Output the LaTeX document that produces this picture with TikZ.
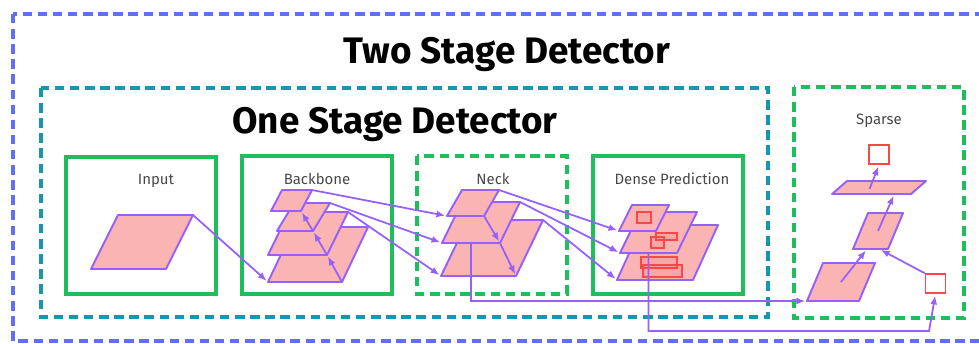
\documentclass[tikz,border=0pt]{standalone}
\usepackage{fontspec}
\setmainfont{Fira Sans}
\usetikzlibrary{calc,arrows.meta}

\definecolor{twoblue}{RGB}{96,112,246}
\definecolor{oneteal}{RGB}{24,150,176}
\definecolor{stagegreen}{RGB}{30,190,92}
\definecolor{flowpurple}{RGB}{150,96,250}
\definecolor{slabpink}{RGB}{250,180,180}
\definecolor{boxred}{RGB}{248,72,72}
\definecolor{labelgray}{RGB}{72,72,72}

% one tilted feature map: name, bottom-left corner, width:height:shift
\def\slab(#1)(#2,#3)(#4:#5:#6){%
  \coordinate (#1-bl) at (#2,#3);
  \coordinate (#1-br) at (#2+#4,#3);
  \coordinate (#1-tr) at (#2+#4+#6,#3-#5);
  \coordinate (#1-tl) at (#2+#6,#3-#5);
  \draw[slab] (#1-bl) -- (#1-br) -- (#1-tr) -- (#1-tl) -- cycle;}

\tikzset{
  slab/.style={draw=flowpurple, fill=slabpink, line width=1.1pt, line join=round},
  flow/.style={draw=flowpurple, line width=1pt, -{Latex[length=5pt,width=4pt]}, shorten >=1pt},
  dashframe/.style={line width=1.8pt, dash pattern=on 5.4pt off 3.2pt},
  solidbox/.style={draw=stagegreen, line width=1.8pt},
  dashbox/.style={draw=stagegreen, dashframe},
  lbl/.style={anchor=base, text=labelgray, font=\fontsize{8.5}{10}\selectfont},
  title/.style={anchor=base, font=\bfseries\fontsize{21}{24}\selectfont},
  hit/.style={draw=boxred, fill=boxred, fill opacity=0.12, line width=0.7pt},
  target/.style={draw=boxred, fill=white, line width=0.9pt, minimum width=0.4cm, minimum height=0.38cm, inner sep=0pt},
}

\begin{document}
\begin{tikzpicture}[x=0.02cm, y=-0.02cm]
  \useasboundingbox (0,0) rectangle (979,343);
  \clip (0,0) rectangle (979,343);

  %%%%% frames %%%%%
  \draw[twoblue, dashframe] (13,14) rectangle (995,341);
  \draw[oneteal, dashframe] (41,88) rectangle (768,317);
  \draw[solidbox] (66,157) rectangle (216,294);
  \draw[solidbox] (242,156) rectangle (392,294);
  \draw[dashbox] (417,156) rectangle (567,294);
  \draw[solidbox] (593,156) rectangle (743,294);
  \draw[dashbox] (794,87) rectangle (964,318);

  \node[title] (two) at (507,63) {Two Stage Detector};
  \node[title] (one) at (395,133) {One Stage Detector};

  \node[lbl] (inlbl) at (156,184) {Input};
  \node[lbl] (bblbl) at (317,184) {Backbone};
  \node[lbl] (nklbl) at (493,184) {Neck};
  \node[lbl] (dnlbl) at (672,184) {Dense Prediction};
  \node[lbl] (splbl) at (879,124) {Sparse};

  %%%%% feature maps %%%%%
  \slab(in)(91,269)(75:54:27)

  \slab(bb4)(268,282)(74:55:26)
  \slab(bb3)(268,255)(59:43:21)
  \slab(bb2)(277,231)(36:28:17)
  \slab(bb1)(271,211)(30:21:11)

  \slab(nk3)(441,276)(75:56:27)
  \slab(nk2)(442,243)(58:41:20)
  \slab(nk1)(447,216)(37:26:15)

  \slab(dn3)(617,280)(76:55:25)
  \slab(dn2)(620,253)(57:41:20)
  \slab(dn1)(619,231)(37:26:13)

  \slab(sp1)(807,301)(52:38:16)
  \slab(sp2)(853,249)(35:36:15)
  \slab(sp3)(832,194)(79:13:15)

  % boxes on the dense maps
  \draw[hit] (637,212) rectangle (651,223);
  \draw[hit] (656,233) rectangle (677,240);
  \draw[hit] (651,237) rectangle (664,248);
  \draw[hit] (641,257) rectangle (677,268);
  \draw[hit] (643,265) rectangle (682,277);

  \node[target] (rt) at (879,154.5) {};
  \node[target] (rb) at (935.5,283.5) {};

  %%%%% arrows %%%%%
  \draw[flow] (in-tr) -- (bb4-bl);

  \draw[flow] (bb4-br) -- (bb3-br);
  \draw[flow] (bb3-br) -- (bb2-br);
  \draw[flow] (bb2-br) -- (bb1-br);

  \draw[flow] (bb1-tr) -- (nk1-bl);
  \draw[flow] (bb2-tr) -- (nk2-bl);
  \draw[flow] (bb3-tr) -- (nk3-bl);

  \draw[flow] (nk1-br) -- (nk2-br);
  \draw[flow] (nk2-br) -- (nk3-br);

  \draw[flow] (nk1-tr) -- (dn1-bl);
  \draw[flow] (nk2-tr) -- (dn2-bl);
  \draw[flow] (nk3-tr) -- (dn3-bl);

  \draw[flow] ($(nk2-bl)!.5!(nk2-br)$) |- (sp1-bl);
  \coordinate (turn) at (929,331);
  \draw[flow] ($(dn2-bl)!.5!(dn2-br)$) |- (turn) -- (rb.south);

  \draw[flow] ($(sp1-bl)!.5!(sp1-tr)$) -- ($(sp2-bl)!.4!(sp2-br)$);
  \draw[flow] ($(sp2-bl)!.5!(sp2-tr)$) -- ($(sp3-bl)!.79!(sp3-br)$);
  \draw[flow] ($(sp3-bl)!.4!(sp3-tr)$) -- (rt.south);
  \draw[flow] (rb.north west) -- ($(sp2-bl)!.75!(sp2-br)$);
\end{tikzpicture}
\end{document}
